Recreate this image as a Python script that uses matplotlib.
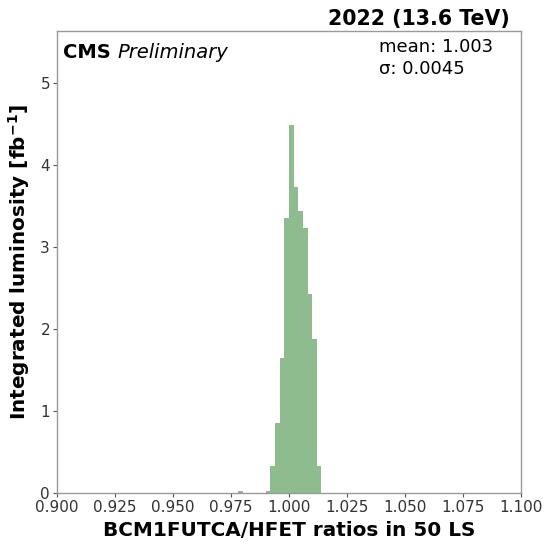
import matplotlib
matplotlib.use("Agg")
import matplotlib.pyplot as plt
import numpy as np

bin_edges = [0.978, 0.980, 0.990, 0.992, 0.994, 0.996, 0.998, 1.000, 1.002,
             1.004, 1.006, 1.008, 1.010, 1.012, 1.014]
lumi = [0.02, 0.0, 0.02, 0.33, 0.85, 1.64, 3.35, 4.48, 3.73, 3.44, 3.23, 2.43, 1.88, 0.33]

xticks = [0.900, 0.925, 0.950, 0.975, 1.000, 1.025, 1.050, 1.075, 1.100]
yticks = [0, 1, 2, 3, 4, 5]

fig = plt.figure(figsize=(5.46, 5.44), dpi=100)
ax = fig.add_axes([57/546, 1-493/544, (521-57)/546, (493-31)/544])

ax.stairs(lumi, bin_edges, fill=True, color="#8fbc8f", linewidth=0)

ax.set_xlim(0.9, 1.1)
ax.set_ylim(0, 5.63)
ax.set_xticks(xticks)
ax.set_xticklabels([f"{t:.3f}" for t in xticks])
ax.set_yticks(yticks)
ax.tick_params(axis="both", labelsize=11, colors="#555555", labelcolor="#333333",
               length=3, width=0.8, pad=2)
for s in ax.spines.values():
    s.set_color("#999999")
    s.set_linewidth(1.0)

ax.set_xlabel("BCM1FUTCA/HFET ratios in 50 LS", fontsize=14.4, fontweight="bold", labelpad=4)
ax.set_ylabel("Integrated luminosity [fb$^{\\mathbf{-1}}$]", fontsize=14.4, fontweight="bold", labelpad=6)

ax.text(0.012, 0.975, "CMS", transform=ax.transAxes, fontsize=14, fontweight="bold",
        va="top", ha="left")
ax.text(0.130, 0.975, "Preliminary", transform=ax.transAxes, fontsize=14, style="italic",
        va="top", ha="left")
ax.text(0.693, 0.985, "mean: 1.003\n\u03c3: 0.0045", transform=ax.transAxes, fontsize=13,
        va="top", ha="left", linespacing=1.3)
fig.text(510/546, 1-19/544, "2022 (13.6 TeV)", fontsize=14.8, fontweight="bold",
         ha="right", va="center")

fig.savefig("out.png", dpi=100)
